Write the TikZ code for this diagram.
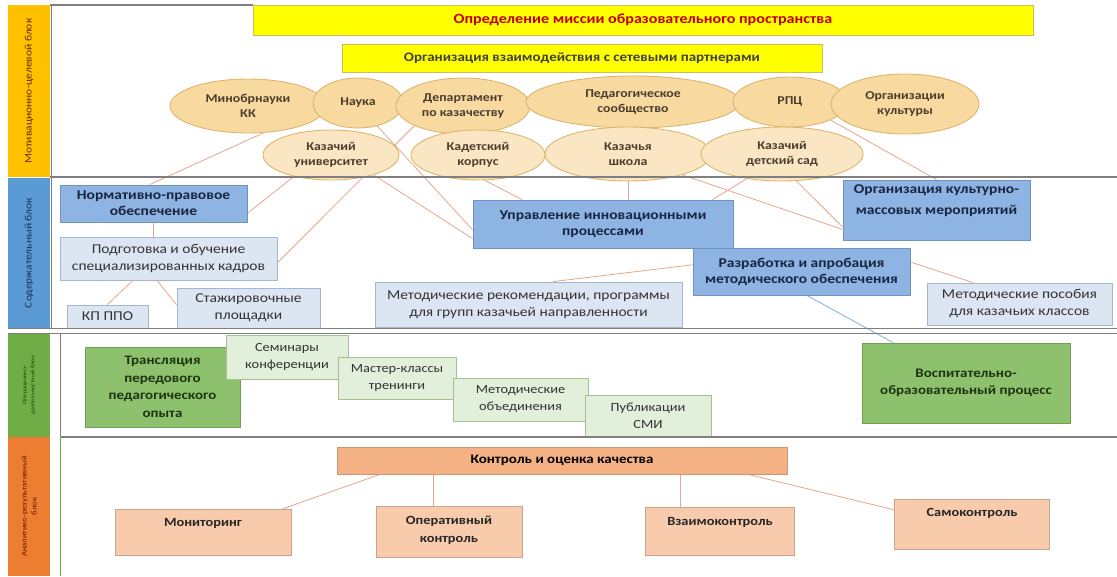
\documentclass[tikz,border=0pt]{standalone}
\usepackage{fontspec}
\setmainfont{Carlito}[FakeStretch=1.15]
\usetikzlibrary{shapes.geometric,calc,backgrounds}
\definecolor{bandY}{HTML}{FFC000}
\definecolor{bandB}{HTML}{5B9BD5}
\definecolor{bandG}{HTML}{70AD47}
\definecolor{bandO}{HTML}{ED7D31}
\definecolor{txtY}{HTML}{6A2600}
\definecolor{txtB}{HTML}{1A2F58}
\definecolor{txtG}{HTML}{1E4010}
\definecolor{txtO}{HTML}{6A1800}
\definecolor{hdrF}{HTML}{FFFF00}
\definecolor{hdrB}{HTML}{C8C060}
\definecolor{hdrT}{HTML}{C00000}
\definecolor{hdrTT}{HTML}{404040}
\definecolor{ellF}{HTML}{F8D9A0}
\definecolor{ellFF}{HTML}{FBE6C3}
\definecolor{ellB}{HTML}{DDB56E}
\definecolor{ellT}{HTML}{4A3D2C}
\definecolor{dbF}{HTML}{8DB4E2}
\definecolor{dbB}{HTML}{7092BE}
\definecolor{dbT}{HTML}{1A2540}
\definecolor{lbF}{HTML}{DCE6F2}
\definecolor{lbB}{HTML}{A3B8D0}
\definecolor{lbT}{HTML}{333333}
\definecolor{dgF}{HTML}{8DC16D}
\definecolor{dgB}{HTML}{70A050}
\definecolor{dgT}{HTML}{1C3510}
\definecolor{lgF}{HTML}{E2EFDA}
\definecolor{lgB}{HTML}{A6C28C}
\definecolor{okF}{HTML}{F4B183}
\definecolor{okB}{HTML}{D09470}
\definecolor{obF}{HTML}{F8CBAD}
\definecolor{obB}{HTML}{C9A48C}
\definecolor{conC}{HTML}{E7A68C}
\definecolor{bconC}{HTML}{8DB3E2}
\definecolor{sepC}{HTML}{7F7F7F}
\newcommand\myfs[2]{\fontsize{#1}{#2}\selectfont}
\begin{document}
\begin{tikzpicture}[x=1pt,y=-1pt,
  band/.style={rotate=90, inner sep=0pt, align=center, minimum height=42},
  hdr/.style={draw=hdrB, fill=hdrF, line width=0.8pt, inner sep=0pt, font=\bfseries\myfs{13}{15.5}},
  ellrow/.style={ellipse, draw=ellB, line width=0.9pt, inner sep=0pt, align=center, text=ellT, font=\bfseries\myfs{12}{14.5}},
  dbox/.style={draw=dbB, fill=dbF, line width=0.8pt, inner sep=0pt, align=center, text=dbT, font=\bfseries\myfs{13.5}{16}},
  lbox/.style={draw=lbB, fill=lbF, line width=0.8pt, inner sep=0pt, align=center, text=lbT, font=\myfs{13.5}{17}},
  dgbox/.style={draw=dgB, fill=dgF, line width=0.8pt, inner sep=0pt, align=center, text=dgT, font=\bfseries\myfs{13}{17.5}},
  lgbox/.style={draw=lgB, fill=lgF, line width=0.8pt, inner sep=0pt, align=center, text=lbT, font=\myfs{12.5}{17}},
  okbox/.style={draw=okB, fill=okF, line width=0.8pt, inner sep=0pt, align=center, text=black, font=\bfseries\myfs{13}{16}},
  obbox/.style={draw=obB, fill=obF, line width=0.8pt, inner sep=0pt, align=center},
  obtext/.style={inner sep=0pt, align=center, text=black!85, font=\bfseries\myfs{12.5}{18}},
  conn/.style={draw=conC, line width=0.8pt},
  bconn/.style={draw=bconC, line width=0.9pt},
  sep/.style={draw=sepC, line width=1.4pt}
]
\useasboundingbox (0,0) rectangle (1117,576);

% ---- block bands
\node[band, fill=bandY, text=txtY, minimum width=172, font=\myfs{10}{12}] (bandY) at (29,91) {Мотивационно-целевой блок};
\node[band, fill=bandB, text=txtB, minimum width=150, font=\myfs{10}{12}] (bandB) at (29,253) {Содержательный блок};
\node[band, fill=bandG, text=txtG, minimum width=104, font=\myfs{5.5}{8}] (bandG) at (29,385) {Операционно-\\деятельностный блок};
\node[band, fill=bandO, text=txtO, minimum width=139, font=\myfs{7.5}{10}] (bandO) at (29,506.5) {Аналитико-результативный\\блок};

% ---- headers
\node[hdr, text=hdrT, minimum width=780, minimum height=30, font=\bfseries\myfs{14}{16}] (mission) at (643,20) {Определение миссии образовательного пространства};
\node[hdr, text=hdrTT, minimum width=480, minimum height=28] (network) at (582,58) {Организация взаимодействия с сетевыми партнерами};

% ---- partners, first row
\node[ellrow, fill=ellF, minimum width=156, minimum height=54] (minobr) at (248,106) {Минобрнауки\\КК};
\node[ellrow, fill=ellF, minimum width=90, minimum height=50] (nauka) at (358,103) {Наука};
\node[ellrow, fill=ellF, minimum width=134, minimum height=56] (dept) at (463,106) {Департамент\\по казачеству};
\node[ellrow, fill=ellF, minimum width=214, minimum height=52] (pedsoob) at (633,102) {Педагогическое\\сообщество};
\node[ellrow, fill=ellF, minimum width=114, minimum height=50] (rpc) at (790,102) {РПЦ};
\node[ellrow, fill=ellF, minimum width=148, minimum height=60] (orgkult) at (905,104) {Организации\\культуры};
% ---- partners, second row
\node[ellrow, fill=ellFF, minimum width=136, minimum height=50] (kazuniv) at (331,155) {Казачий\\университет};
\node[ellrow, fill=ellFF, minimum width=134, minimum height=50] (kadet) at (478,155) {Кадетский\\корпус};
\node[ellrow, fill=ellFF, minimum width=166, minimum height=54] (kazschool) at (628,154) {Казачья\\школа};
\node[ellrow, fill=ellFF, minimum width=162, minimum height=54] (kazsad) at (782,154) {Казачий\\детский сад};

% ---- content block
\node[dbox, minimum width=187, minimum height=37] (norm) at (153.5,203.5) {Нормативно-правовое\\обеспечение};
\node[lbox, minimum width=217, minimum height=43] (podg) at (168.5,258.5) {Подготовка и обучение\\специализированных кадров};
\node[lbox, minimum width=81, minimum height=23] (kpppo) at (107.5,316.5) {КП ППО};
\node[lbox, minimum width=143, minimum height=40] (stazh) at (248.5,308) {Стажировочные\\площадки};
\node[dbox, minimum width=260, minimum height=48] (uprav) at (603,224) {Управление инновационными\\процессами};
\node[dbox, minimum width=187, minimum height=60] (orgmass) at (936.5,210) {};
\node[inner sep=0pt, align=center, text=dbT, font=\bfseries\myfs{13.5}{21}] (orgmassT) at ($(orgmass)+(0,-9)$) {Организация культурно-\\массовых мероприятий};
\node[dbox, minimum width=217, minimum height=47] (razrab) at (801.5,271.5) {Разработка и апробация\\методического обеспечения};
\node[lbox, minimum width=307, minimum height=45] (metrek) at (528.5,304.5) {Методические рекомендации, программы\\для групп казачьей направленности};
\node[lbox, minimum width=185, minimum height=42] (metpos) at (1019.5,304) {Методические пособия\\для казачьих классов};

% ---- operational block
\node[dgbox, minimum width=155, minimum height=80] (transl) at (162.5,387) {Трансляция\\передового\\педагогического\\опыта};
\node[lgbox, minimum width=122, minimum height=44] (semin) at (287,357) {Семинары\\конференции};
\node[lgbox, minimum width=118, minimum height=42] (master) at (397,378) {Мастер-классы\\тренинги};
\node[lgbox, minimum width=135, minimum height=43] (metob) at (520.5,399.5) {Методические\\объединения};
\node[lgbox, minimum width=126, minimum height=42] (publ) at (648,416) {Публикации\\СМИ};
\node[dgbox, minimum width=208, minimum height=80] (vosp) at (966,383) {Воспитательно-\\образовательный процесс};

% ---- analytic block
\node[okbox, minimum width=450, minimum height=27] (kontrol) at (562,460.5) {Контроль и оценка качества};
\node[obbox, minimum width=176, minimum height=46] (monit) at (203,532) {};
\node[obtext] (monitT) at ($(monit)+(0,-9)$) {Мониторинг};
\node[obbox, minimum width=146, minimum height=51] (operat) at (449,531.5) {};
\node[obtext] (operatT) at ($(operat)+(0,-1)$) {Оперативный\\контроль};
\node[obbox, minimum width=149, minimum height=48] (vzaim) at (720,531) {};
\node[obtext] (vzaimT) at ($(vzaim)+(0,-9)$) {Взаимоконтроль};
\node[obbox, minimum width=155, minimum height=50] (samok) at (972,524) {};
\node[obtext] (samokT) at ($(samok)+(0,-11)$) {Самоконтроль};

% ---- frame lines
\draw[sep] (50,5) -- (253,5);
\draw[draw=sepC, line width=1pt] (51,5) -- (51,328);
\draw[sep] (50,177) -- (1117,177);
\draw[draw=sepC, line width=1pt] (8,328) -- (1117,328);
\draw[draw=sepC, line width=1pt] (8,333) -- (1117,333);
\draw[draw=sepC, line width=1pt] (60,333) -- (60,437);
\draw[sep] (60,437) -- (1117,437);
\draw[draw=bandG, line width=1pt] (60,437) -- (60,576);

% ---- connectors
\begin{pgfonlayer}{background}
\draw[conn] (minobr.300) -- ($(norm.north west)!0.48!(norm.north east)$);
\draw[conn] (kazuniv.210) -- ($(norm.north east)!0.76!(norm.south east)$);
\draw[conn] (norm.south) -- (norm.south |- podg.north);
\draw[conn] (dept.202) -- ($(podg.north east)!0.6!(podg.south east)$);
\draw[conn] ($(podg.south west)!0.336!(podg.south east)$) -- (kpppo.north);
\draw[conn] ($(podg.south west)!0.447!(podg.south east)$) -- ($(stazh.north west)!0.42!(stazh.south west)$);
\draw[conn] (kazuniv.335) -- ($(uprav.north west)!0.8!(uprav.south west)$);
\draw[conn] (nauka.310) -- ($(uprav.north west)!0.62!(uprav.south west)$);
\draw[conn] (kadet.285) -- ($(uprav.north west)!0.19!(uprav.north east)$);
\draw[conn] (kazschool.south) -- (kazschool.south |- uprav.north);
\draw[conn] (kazsad.215) -- ($(uprav.north west)!0.92!(uprav.north east)$);
\draw[conn] (kazschool.339) -- ($(orgmass.north west)!0.82!(orgmass.south west)$);
\draw[conn] (kazsad.298) -- ($(orgmass.north west)!0.78!(orgmass.south west)$);
\draw[conn] (rpc.336) -- (orgmass.north);
\draw[conn] ($(razrab.north west)!0.36!(razrab.south west)$) -- ($(metrek.north west)!0.58!(metrek.north east)$);
\draw[conn] ($(razrab.north east)!0.3!(razrab.south east)$) -- ($(metpos.north west)!0.25!(metpos.north east)$);
\draw[bconn] ($(razrab.south west)!0.525!(razrab.south east)$) -- ($(vosp.north west)!0.15!(vosp.north east)$);
\coordinate (k1) at ($(kontrol.south west)!0.096!(kontrol.south east)$);
\coordinate (k2) at ($(kontrol.south west)!0.215!(kontrol.south east)$);
\coordinate (k3) at ($(kontrol.south west)!0.762!(kontrol.south east)$);
\coordinate (k4) at ($(kontrol.south west)!0.913!(kontrol.south east)$);
\draw[conn] (k1) -- ($(monit.north west)!0.954!(monit.north east)$);
\draw[conn] (k2) -- (k2 |- operat.north);
\draw[conn] (k3) -- (k3 |- vzaim.north);
\draw[conn] (k4) -- ($(samok.north west)!0.22!(samok.south west)$);
\end{pgfonlayer}
\end{tikzpicture}
\end{document}
